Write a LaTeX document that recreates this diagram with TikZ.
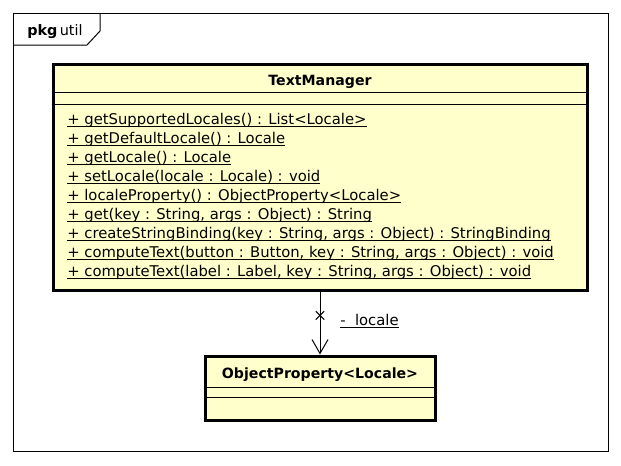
\documentclass[tikz,border=0pt]{standalone}
\usepackage{fontspec}
\setmainfont{DejaVu Sans}
\usetikzlibrary{positioning,arrows.meta,shapes.misc}

\definecolor{classyellow}{RGB}{255,255,204}

% underlined text, as UML does for static members
\newcommand\staticmember[1]{\setbox0\hbox{#1}\rlap{\rule[-2.4pt]{\wd0}{0.75pt}}\box0}

\begin{document}
\begin{tikzpicture}[x=0.75pt,y=-0.75pt,thin,font=\fontsize{11.1}{13}\selectfont,
    classbox/.style={draw,line width=2.25pt,fill=classyellow,inner sep=0pt},
    member/.style={anchor=base west,inner sep=0pt},
    classname/.style={anchor=base,inner sep=0pt,font=\fontsize{10.6}{13}\selectfont\bfseries},
    assoc/.style={-{Straight Barb[length=10.5pt,width=12pt]},line width=0.75pt}]
    \useasboundingbox (0,0) rectangle (621,465);

    % package frame
    \draw[line width=0.75pt] (13,13) rectangle (608,451);
    \draw[line width=0.75pt] (13,45) -- (87,45) -- (100,31) -- (100,13);
    \node[member,font=\fontsize{10.8}{13}\selectfont] (pkglabel) at (27,35) {\textbf{pkg}\,util};

    % classes
    \node[classbox,minimum width=400.5pt,minimum height=169.5pt] (textmanager) at (320,177) {};
    \node[classbox,minimum width=172.5pt,minimum height=48pt] (objprop) at (320,388) {};

    \draw[line width=0.75pt] (textmanager.west |- 0,92) -- (textmanager.east |- 0,92);
    \draw[line width=0.75pt] (textmanager.west |- 0,104) -- (textmanager.east |- 0,104);
    \draw[line width=0.75pt] (objprop.west |- 0,387) -- (objprop.east |- 0,387);
    \draw[line width=0.75pt] (objprop.west |- 0,397) -- (objprop.east |- 0,397);

    \node[classname] (tmtitle) at (320,85) {TextManager};
    \node[classname] (optitle) at (320,378) {ObjectProperty<Locale>};

    \foreach \m [count=\i from 0] in {
        {+ getSupportedLocales() : List<Locale>},
        {+ getDefaultLocale() : Locale},
        {+ getLocale() : Locale},
        {+ setLocale(locale : Locale) : void},
        {+ localeProperty() : ObjectProperty<Locale>},
        {+ get(key : String, args : Object) : String},
        {+ createStringBinding(key : String, args : Object) : StringBinding},
        {+ computeText(button : Button, key : String, args : Object) : void},
        {+ computeText(label : Label, key : String, args : Object) : void}}
        \node[member] (method\i) at (67,{124+19*\i}) {\staticmember{\m}};

    % association
    \draw[assoc] (textmanager.south) -- (objprop.north)
        node[pos=0.38,cross out,draw,line width=0.75pt,minimum size=5.5pt,inner sep=0pt] (navcross) {};
    \node[member] (rolelabel) at (340,325) {\staticmember{-\ \ locale}};
\end{tikzpicture}
\end{document}
